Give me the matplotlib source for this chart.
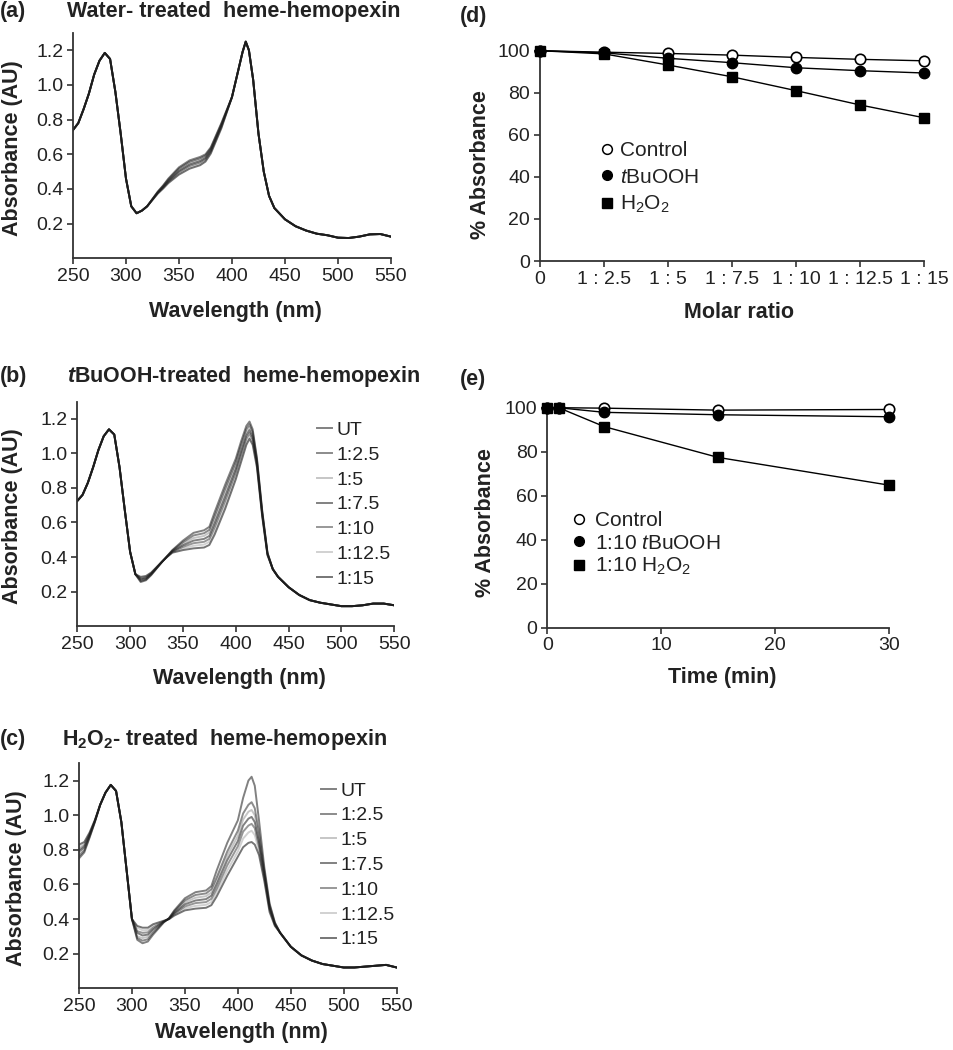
import matplotlib
matplotlib.use("Agg")
import matplotlib.pyplot as plt
from matplotlib.lines import Line2D

plt.rcParams['font.family'] = ['Liberation Sans', 'DejaVu Sans']
plt.rcParams['mathtext.fontset'] = 'custom'
plt.rcParams['mathtext.rm'] = 'Liberation Sans'
plt.rcParams['mathtext.it'] = 'Liberation Sans:italic'
plt.rcParams['mathtext.bf'] = 'Liberation Sans:bold'
plt.rcParams['mathtext.bfit'] = 'Liberation Sans:italic:bold'

TXT = '#222222'
SP = '#333333'

# ---------------- data ----------------
wavelength = [250, 255, 260, 265, 270, 275, 280, 285, 290, 295, 300, 305, 310, 315, 320,
              330, 335, 340, 350, 360, 370, 375, 380, 390, 400, 405, 410, 413, 416, 420,
              425, 430, 435, 440, 450, 460, 470, 480, 490, 500, 510, 520, 530, 540, 550]

ratio_labels = ['UT', '1:2.5', '1:5', '1:7.5', '1:10', '1:12.5', '1:15']

# (a) water-treated
a_ut    = [0.74, 0.78, 0.86, 0.95, 1.06, 1.14, 1.185, 1.15, 0.96, 0.72, 0.46, 0.30, 0.26, 0.275, 0.30, 0.385, 0.420, 0.460, 0.525, 0.565, 0.585, 0.600, 0.640, 0.780, 0.93, 1.06, 1.19, 1.25, 1.20, 1.03, 0.72, 0.50, 0.36, 0.29, 0.225, 0.185, 0.160, 0.142, 0.133, 0.119, 0.117, 0.125, 0.138, 0.140, 0.125]
a_r2_5  = [0.74, 0.78, 0.86, 0.95, 1.06, 1.14, 1.185, 1.15, 0.96, 0.72, 0.46, 0.30, 0.26, 0.275, 0.30, 0.383, 0.417, 0.455, 0.518, 0.557, 0.577, 0.593, 0.634, 0.775, 0.93, 1.06, 1.19, 1.25, 1.20, 1.03, 0.72, 0.50, 0.36, 0.29, 0.225, 0.185, 0.160, 0.142, 0.133, 0.119, 0.117, 0.125, 0.138, 0.140, 0.125]
a_r5    = [0.74, 0.78, 0.86, 0.95, 1.06, 1.14, 1.185, 1.15, 0.96, 0.72, 0.46, 0.30, 0.26, 0.275, 0.30, 0.381, 0.414, 0.450, 0.511, 0.549, 0.569, 0.586, 0.628, 0.770, 0.93, 1.06, 1.19, 1.25, 1.20, 1.03, 0.72, 0.50, 0.36, 0.29, 0.225, 0.185, 0.160, 0.142, 0.133, 0.119, 0.117, 0.125, 0.138, 0.140, 0.125]
a_r7_5  = [0.74, 0.78, 0.86, 0.95, 1.06, 1.14, 1.185, 1.15, 0.96, 0.72, 0.46, 0.30, 0.26, 0.275, 0.30, 0.379, 0.411, 0.446, 0.504, 0.541, 0.561, 0.579, 0.622, 0.765, 0.93, 1.06, 1.19, 1.25, 1.20, 1.03, 0.72, 0.50, 0.36, 0.29, 0.225, 0.185, 0.160, 0.142, 0.133, 0.119, 0.117, 0.125, 0.138, 0.140, 0.125]
a_r10   = [0.74, 0.78, 0.86, 0.95, 1.06, 1.14, 1.185, 1.15, 0.96, 0.72, 0.46, 0.30, 0.26, 0.275, 0.30, 0.377, 0.408, 0.442, 0.497, 0.533, 0.553, 0.572, 0.616, 0.760, 0.93, 1.06, 1.19, 1.25, 1.20, 1.03, 0.72, 0.50, 0.36, 0.29, 0.225, 0.185, 0.160, 0.142, 0.133, 0.119, 0.117, 0.125, 0.138, 0.140, 0.125]
a_r12_5 = [0.74, 0.78, 0.86, 0.95, 1.06, 1.14, 1.185, 1.15, 0.96, 0.72, 0.46, 0.30, 0.26, 0.275, 0.30, 0.375, 0.405, 0.438, 0.490, 0.525, 0.545, 0.565, 0.610, 0.755, 0.93, 1.06, 1.19, 1.25, 1.20, 1.03, 0.72, 0.50, 0.36, 0.29, 0.225, 0.185, 0.160, 0.142, 0.133, 0.119, 0.117, 0.125, 0.138, 0.140, 0.125]
a_r15   = [0.74, 0.78, 0.86, 0.95, 1.06, 1.14, 1.185, 1.15, 0.96, 0.72, 0.46, 0.30, 0.26, 0.275, 0.30, 0.373, 0.402, 0.434, 0.483, 0.517, 0.537, 0.558, 0.604, 0.750, 0.93, 1.06, 1.19, 1.25, 1.20, 1.03, 0.72, 0.50, 0.36, 0.29, 0.225, 0.185, 0.160, 0.142, 0.133, 0.119, 0.117, 0.125, 0.138, 0.140, 0.125]

# (b) tBuOOH-treated
b_ut    = [0.725, 0.76, 0.83, 0.92, 1.02, 1.10, 1.14, 1.11, 0.92, 0.67, 0.43, 0.30, 0.255, 0.265, 0.295, 0.370, 0.405, 0.440, 0.495, 0.540, 0.555, 0.575, 0.660, 0.820, 0.970, 1.070, 1.160, 1.185, 1.140, 0.975, 0.670, 0.425, 0.33, 0.285, 0.225, 0.18, 0.15, 0.135, 0.125, 0.115, 0.115, 0.12, 0.13, 0.13, 0.12]
b_r2_5  = [0.725, 0.76, 0.83, 0.92, 1.02, 1.10, 1.14, 1.11, 0.92, 0.67, 0.43, 0.30, 0.260, 0.269, 0.298, 0.370, 0.404, 0.438, 0.486, 0.525, 0.538, 0.558, 0.638, 0.797, 0.950, 1.050, 1.142, 1.168, 1.125, 0.966, 0.664, 0.423, 0.33, 0.285, 0.225, 0.18, 0.15, 0.135, 0.125, 0.115, 0.115, 0.12, 0.13, 0.13, 0.12]
b_r5    = [0.725, 0.76, 0.83, 0.92, 1.02, 1.10, 1.14, 1.11, 0.92, 0.67, 0.43, 0.30, 0.265, 0.273, 0.300, 0.371, 0.404, 0.435, 0.477, 0.510, 0.522, 0.542, 0.617, 0.773, 0.930, 1.030, 1.123, 1.152, 1.110, 0.957, 0.658, 0.420, 0.33, 0.285, 0.225, 0.18, 0.15, 0.135, 0.125, 0.115, 0.115, 0.12, 0.13, 0.13, 0.12]
b_r7_5  = [0.725, 0.76, 0.83, 0.92, 1.02, 1.10, 1.14, 1.11, 0.92, 0.67, 0.43, 0.30, 0.270, 0.277, 0.303, 0.371, 0.403, 0.433, 0.468, 0.495, 0.505, 0.522, 0.595, 0.750, 0.910, 1.010, 1.105, 1.135, 1.095, 0.948, 0.652, 0.418, 0.33, 0.285, 0.225, 0.18, 0.15, 0.135, 0.125, 0.115, 0.115, 0.12, 0.13, 0.13, 0.12]
b_r10   = [0.725, 0.76, 0.83, 0.92, 1.02, 1.10, 1.14, 1.11, 0.92, 0.67, 0.43, 0.30, 0.275, 0.281, 0.305, 0.371, 0.402, 0.430, 0.459, 0.480, 0.488, 0.505, 0.573, 0.727, 0.890, 0.990, 1.087, 1.118, 1.080, 0.938, 0.647, 0.415, 0.33, 0.285, 0.225, 0.18, 0.15, 0.135, 0.125, 0.115, 0.115, 0.12, 0.13, 0.13, 0.12]
b_r12_5 = [0.725, 0.76, 0.83, 0.92, 1.02, 1.10, 1.14, 1.11, 0.92, 0.67, 0.43, 0.30, 0.280, 0.286, 0.308, 0.372, 0.401, 0.428, 0.450, 0.465, 0.472, 0.488, 0.552, 0.703, 0.870, 0.970, 1.068, 1.102, 1.065, 0.929, 0.641, 0.413, 0.33, 0.285, 0.225, 0.18, 0.15, 0.135, 0.125, 0.115, 0.115, 0.12, 0.13, 0.13, 0.12]
b_r15   = [0.725, 0.76, 0.83, 0.92, 1.02, 1.10, 1.14, 1.11, 0.92, 0.67, 0.43, 0.30, 0.285, 0.290, 0.310, 0.372, 0.400, 0.425, 0.440, 0.450, 0.455, 0.470, 0.530, 0.680, 0.850, 0.950, 1.050, 1.085, 1.050, 0.920, 0.635, 0.410, 0.33, 0.285, 0.225, 0.18, 0.15, 0.135, 0.125, 0.115, 0.115, 0.12, 0.13, 0.13, 0.12]

# (c) H2O2-treated
c_ut    = [0.750, 0.785, 0.870, 0.960, 1.06, 1.13, 1.175, 1.14, 0.96, 0.68, 0.40, 0.280, 0.260, 0.270, 0.310, 0.380, 0.405, 0.450, 0.520, 0.555, 0.565, 0.590, 0.680, 0.840, 0.970, 1.100, 1.200, 1.222, 1.170, 0.970, 0.700, 0.490, 0.380, 0.32, 0.24, 0.19, 0.16, 0.14, 0.13, 0.12, 0.12, 0.125, 0.13, 0.135, 0.12]
c_r2_5  = [0.762, 0.795, 0.875, 0.962, 1.06, 1.13, 1.175, 1.14, 0.96, 0.68, 0.40, 0.290, 0.275, 0.283, 0.320, 0.382, 0.404, 0.445, 0.508, 0.539, 0.548, 0.572, 0.640, 0.790, 0.910, 1.010, 1.060, 1.075, 1.040, 0.900, 0.680, 0.480, 0.377, 0.32, 0.24, 0.19, 0.16, 0.14, 0.13, 0.12, 0.12, 0.125, 0.13, 0.135, 0.12]
c_r5    = [0.775, 0.805, 0.880, 0.964, 1.06, 1.13, 1.175, 1.14, 0.96, 0.68, 0.40, 0.300, 0.290, 0.297, 0.330, 0.383, 0.403, 0.440, 0.497, 0.523, 0.532, 0.553, 0.620, 0.765, 0.880, 0.975, 1.020, 1.030, 1.000, 0.870, 0.670, 0.472, 0.373, 0.32, 0.24, 0.19, 0.16, 0.14, 0.13, 0.12, 0.12, 0.125, 0.13, 0.135, 0.12]
c_r7_5  = [0.790, 0.815, 0.885, 0.966, 1.06, 1.13, 1.175, 1.14, 0.96, 0.68, 0.40, 0.320, 0.305, 0.310, 0.340, 0.385, 0.402, 0.435, 0.485, 0.507, 0.515, 0.535, 0.600, 0.740, 0.850, 0.940, 0.980, 0.990, 0.960, 0.845, 0.660, 0.465, 0.370, 0.32, 0.24, 0.19, 0.16, 0.14, 0.13, 0.12, 0.12, 0.125, 0.13, 0.135, 0.12]
c_r10   = [0.800, 0.825, 0.890, 0.968, 1.06, 1.13, 1.175, 1.14, 0.96, 0.68, 0.40, 0.330, 0.320, 0.323, 0.350, 0.387, 0.401, 0.430, 0.473, 0.492, 0.498, 0.517, 0.575, 0.710, 0.820, 0.905, 0.940, 0.950, 0.925, 0.820, 0.645, 0.458, 0.367, 0.32, 0.24, 0.19, 0.16, 0.14, 0.13, 0.12, 0.12, 0.125, 0.13, 0.135, 0.12]
c_r12_5 = [0.815, 0.835, 0.895, 0.970, 1.06, 1.13, 1.175, 1.14, 0.96, 0.68, 0.40, 0.350, 0.335, 0.337, 0.360, 0.388, 0.400, 0.425, 0.462, 0.476, 0.482, 0.498, 0.555, 0.680, 0.790, 0.865, 0.900, 0.910, 0.885, 0.795, 0.630, 0.450, 0.363, 0.32, 0.24, 0.19, 0.16, 0.14, 0.13, 0.12, 0.12, 0.125, 0.13, 0.135, 0.12]
c_r15   = [0.830, 0.845, 0.900, 0.972, 1.06, 1.13, 1.175, 1.14, 0.96, 0.68, 0.40, 0.360, 0.350, 0.350, 0.370, 0.390, 0.399, 0.420, 0.450, 0.460, 0.465, 0.480, 0.530, 0.650, 0.760, 0.815, 0.840, 0.845, 0.830, 0.770, 0.620, 0.440, 0.360, 0.32, 0.24, 0.19, 0.16, 0.14, 0.13, 0.12, 0.12, 0.125, 0.13, 0.135, 0.12]

# (d) % absorbance vs molar ratio
molar_ratio = ['0', '1 : 2.5', '1 : 5', '1 : 7.5', '1 : 10', '1 : 12.5', '1 : 15']
d_control = [100, 99.3, 98.7, 97.9, 96.8, 95.9, 95.2]
d_tbuooh  = [100, 99.0, 96.4, 94.3, 91.9, 90.5, 89.4]
d_h2o2    = [100, 98.5, 93.2, 87.6, 81.0, 74.2, 68.1]

# (e) % absorbance vs time
time_min  = [0, 1, 5, 15, 30]
e_control = [100, 100, 99.8, 98.9, 99.2]
e_tbuooh  = [100, 100, 97.9, 96.8, 95.9]
e_h2o2    = [100, 100, 91.4, 77.4, 64.8]

# ---------------- figure ----------------
fig = plt.figure(figsize=(9.54, 10.5), dpi=100)

line_alphas = [0.55, 0.5, 0.25, 0.55, 0.45, 0.2, 0.6]
LC = '#1a1a1a'

def style_axes(ax, fs=14):
    for s in ['top', 'right']:
        ax.spines[s].set_visible(False)
    for s in ['left', 'bottom']:
        ax.spines[s].set_color(SP)
        ax.spines[s].set_linewidth(1.3)
    ax.tick_params(direction='out', length=4, width=1.2, color=SP,
                   labelsize=fs, labelcolor=TXT, pad=3)

def spectrum_panel(rect, curves, legend_anchor=None, label_y=-0.19, ylab_x=-0.17):
    ax = fig.add_axes(rect)
    handles = []
    for vals, al, lab in zip(curves, line_alphas, ratio_labels):
        h, = ax.plot(wavelength, vals, color=LC, alpha=al, lw=1.4, label=lab)
        handles.append(h)
    ax.set_xlim(250, 550)
    ax.set_ylim(0, 1.3)
    ax.set_xticks([250, 300, 350, 400, 450, 500, 550])
    ax.set_yticks([0.2, 0.4, 0.6, 0.8, 1.0, 1.2])
    ax.set_yticklabels(['0.2', '0.4', '0.6', '0.8', '1.0', '1.2'])
    style_axes(ax)
    ax.set_xlabel('Wavelength (nm)', fontsize=15.5, fontweight='bold', color=TXT)
    ax.set_ylabel('Absorbance (AU)', fontsize=15.5, fontweight='bold', color=TXT)
    ax.xaxis.set_label_coords(0.51, label_y)
    ax.yaxis.set_label_coords(ylab_x, 0.49)
    if legend_anchor is not None:
        ax.legend(handles=handles, loc='upper left', bbox_to_anchor=legend_anchor,
                  frameon=False, fontsize=14, handlelength=0.75, handletextpad=0.25,
                  labelspacing=0.37, borderpad=0, borderaxespad=0,
                  labelcolor=TXT)
    return ax

ax_a = spectrum_panel([0.0765, 0.754, 0.3333, 0.2146],
                      [a_ut, a_r2_5, a_r5, a_r7_5, a_r10, a_r12_5, a_r15],
                      label_y=-0.19, ylab_x=-0.158)
ax_b = spectrum_panel([0.081, 0.4038, 0.3323, 0.2136],
                      [b_ut, b_r2_5, b_r5, b_r7_5, b_r10, b_r12_5, b_r15],
                      legend_anchor=(0.757, 0.912), label_y=-0.185, ylab_x=-0.172)
ax_c = spectrum_panel([0.0828, 0.0588, 0.333, 0.2143],
                      [c_ut, c_r2_5, c_r5, c_r7_5, c_r10, c_r12_5, c_r15],
                      legend_anchor=(0.762, 0.917), label_y=-0.15, ylab_x=-0.164)

# (d)
ax_d = fig.add_axes([0.566, 0.7514, 0.4028, 0.2003])
xd = list(range(len(molar_ratio)))
ax_d.plot(xd, d_control, color='black', lw=1.0, marker='o', ms=7.5, mfc='white',
          mec='black', mew=1.2, clip_on=False, zorder=3)
ax_d.plot(xd, d_h2o2, color='black', lw=1.0, marker='s', ms=7, mfc='black',
          mec='black', clip_on=False, zorder=3)
ax_d.plot(xd, d_tbuooh, color='black', lw=1.0, marker='o', ms=7.5, mfc='black',
          mec='black', clip_on=False, zorder=3)
ax_d.set_xlim(0, 6)
ax_d.set_ylim(0, 100)
ax_d.set_xticks(xd)
ax_d.set_xticklabels(molar_ratio)
ax_d.set_yticks([0, 20, 40, 60, 80, 100])
style_axes(ax_d)
ax_d.set_xlabel('Molar ratio', fontsize=15.5, fontweight='bold', color=TXT)
ax_d.set_ylabel('% Absorbance', fontsize=15.5, fontweight='bold', color=TXT)
ax_d.xaxis.set_label_coords(0.518, -0.195)
ax_d.yaxis.set_label_coords(-0.128, 0.46)
hd = [Line2D([], [], ls='none', marker='o', ms=7, mfc='white', mec='black', mew=1.1),
      Line2D([], [], ls='none', marker='o', ms=7, mfc='black', mec='black'),
      Line2D([], [], ls='none', marker='s', ms=6.5, mfc='black', mec='black')]
ax_d.legend(hd, ['Control', r'$\it{t}$BuOOH', r'H$_2$O$_2$'], loc='upper left',
            bbox_to_anchor=(0.158, 0.57), frameon=False, fontsize=15,
            handlelength=0.6, handletextpad=0.32, labelspacing=0.36,
            borderpad=0, borderaxespad=0, labelcolor=TXT)

# (e)
ax_e = fig.add_axes([0.5737, 0.4022, 0.3582, 0.2095])
ax_e.plot(time_min, e_control, color='black', lw=1.0, marker='o', ms=7.5, mfc='white',
          mec='black', mew=1.2, clip_on=False, zorder=3)
ax_e.plot(time_min, e_h2o2, color='black', lw=1.0, marker='s', ms=7, mfc='black',
          mec='black', clip_on=False, zorder=3)
ax_e.plot(time_min, e_tbuooh, color='black', lw=1.0, marker='o', ms=7.5, mfc='black',
          mec='black', clip_on=False, zorder=3)
ax_e.set_xlim(0, 30)
ax_e.set_ylim(0, 100)
ax_e.set_xticks([0, 10, 20, 30])
ax_e.set_yticks([0, 20, 40, 60, 80, 100])
style_axes(ax_e)
ax_e.set_xlabel('Time (min)', fontsize=15.5, fontweight='bold', color=TXT)
ax_e.set_ylabel('% Absorbance', fontsize=15.5, fontweight='bold', color=TXT)
ax_e.xaxis.set_label_coords(0.513, -0.177)
ax_e.yaxis.set_label_coords(-0.150, 0.478)
he = [Line2D([], [], ls='none', marker='o', ms=7, mfc='white', mec='black', mew=1.1),
      Line2D([], [], ls='none', marker='o', ms=7, mfc='black', mec='black'),
      Line2D([], [], ls='none', marker='s', ms=6.5, mfc='black', mec='black')]
ax_e.legend(he, ['Control', r'1:10 $\it{t}$BuOOH', r'1:10 H$_2$O$_2$'], loc='upper left',
            bbox_to_anchor=(0.0746, 0.53), frameon=False, fontsize=15,
            handlelength=0.6, handletextpad=0.47, labelspacing=0.17,
            borderpad=0, borderaxespad=0, labelcolor=TXT)

# panel labels and titles
W, H = 954.0, 1050.0
def ftxt(x, y, s, **kw):
    fig.text(x / W, 1 - y / H, s, fontsize=15.5, fontweight='bold', color=TXT,
             va='baseline', ha='left', **kw)

ftxt(0, 17, '(a)')
ftxt(67, 17, 'Water- treated  heme-hemopexin')
ftxt(0, 382, '(b)')
ftxt(67, 382, r'$\mathbfit{t}$BuOOH-treated  heme-hemopexin')
ftxt(0, 745, '(c)')
ftxt(62, 745, r'H$_\mathbf{2}$O$_\mathbf{2}$- treated  heme-hemopexin')
ftxt(460, 22, '(d)')
ftxt(460, 385, '(e)')

fig.savefig('out.png', dpi=100)
